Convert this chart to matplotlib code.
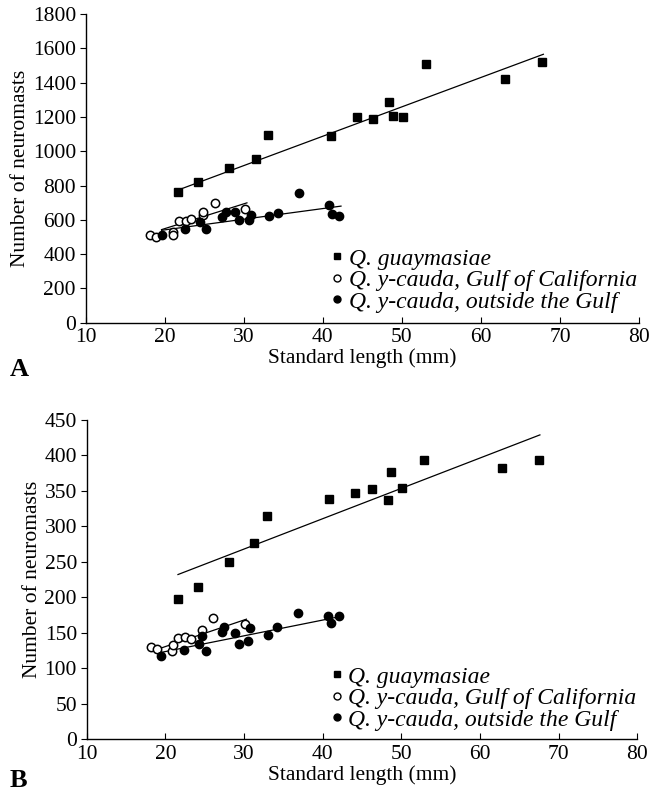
import numpy as np
import matplotlib.pyplot as plt
from matplotlib.lines import Line2D

plt.rcParams['font.family'] = ['Liberation Serif', 'DejaVu Serif']

# Panel A: total neuromasts
a_guay_x = [21.7, 24.2, 28.1, 31.5, 33.1, 41.0, 44.3, 46.4, 48.4, 48.9, 50.2, 53.0, 63.0, 67.7]
a_guay_y = [760, 822, 901, 957, 1094, 1088, 1200, 1186, 1286, 1207, 1200, 1506, 1418, 1518]
a_gulf_x = [18.2, 18.9, 21.0, 21.0, 21.8, 22.7, 23.3, 24.8, 24.9, 26.3, 30.2]
a_gulf_y = [514, 502, 529, 510, 592, 592, 604, 627, 643, 697, 661]
a_out_x = [19.6, 22.6, 24.5, 25.2, 27.2, 27.7, 28.9, 29.4, 30.7, 30.9, 33.2, 34.3, 37.0, 40.8, 41.2, 42.1]
a_out_y = [510, 545, 586, 547, 617, 643, 645, 598, 598, 627, 625, 641, 754, 684, 633, 625]
a_fit_guay = ([21.7, 67.9], [774, 1565])
a_fit_gulf = ([19.6, 30.4], [543, 699])
a_fit_out = ([19.6, 42.3], [539, 680])

# Panel B
b_guay_x = [21.6, 24.1, 28.1, 31.3, 32.9, 40.8, 44.1, 46.3, 48.3, 48.7, 50.1, 52.9, 62.8, 67.5]
b_guay_y = [197, 214, 249, 277, 314, 339, 347, 352, 337, 376, 354, 393, 383, 393]
b_gulf_x = [18.2, 18.9, 20.8, 21.0, 21.6, 22.5, 23.3, 24.7, 26.1, 30.1]
b_gulf_y = [130, 127, 124, 132, 143, 144, 141, 154, 171, 162]
b_out_x = [19.4, 22.4, 24.3, 24.7, 25.2, 27.2, 27.5, 28.9, 29.3, 30.5, 30.8, 33.1, 34.2, 36.9, 40.7, 41.0, 42.1]
b_out_y = [117, 126, 134, 145, 124, 151, 158, 149, 134, 138, 156, 146, 158, 178, 174, 163, 173]
b_fit_guay = ([21.6, 67.6], [232, 429])
b_fit_gulf = ([19.1, 30.3], [127, 169])
b_fit_out = ([19.4, 41.9], [122, 172])

labels = ['Q. guaymasiae', 'Q. y-cauda, Gulf of California', 'Q. y-cauda, outside the Gulf']

fig = plt.figure(figsize=(6.51, 7.97), dpi=100)
axA = fig.add_axes([0.1316, 0.595, 0.85, 0.3875])
axB = fig.add_axes([0.1332, 0.0728, 0.846, 0.4002])


def draw(ax, gx, gy, cx, cy, ox, oy, fits, ymax, ystep, leg_y):
    for fx, fy in fits:
        ax.plot(fx, fy, color='black', lw=0.9, zorder=1)
    ax.plot(gx, gy, 's', color='black', ms=6, zorder=3)
    ax.plot(cx, cy, 'o', mfc='white', mec='black', mew=1.1, ms=6, zorder=2)
    ax.plot(ox, oy, 'o', color='black', ms=6, zorder=3)
    ax.set_xlim(10, 80)
    ax.set_ylim(0, ymax)
    ax.set_xticks(range(10, 81, 10))
    ax.set_yticks(np.arange(0, ymax + 1, ystep))
    for s in ['top', 'right']:
        ax.spines[s].set_visible(False)
    for s in ['left', 'bottom']:
        ax.spines[s].set_linewidth(1.0)
    ax.tick_params(axis='x', direction='in', length=4, labelsize=15.5, pad=4)
    ax.tick_params(axis='y', direction='out', length=4, labelsize=15.5, pad=3)
    ax.set_xlabel('Standard length (mm)', fontsize=15.5, labelpad=1)
    ax.set_ylabel('Number of neuromasts', fontsize=15.5, labelpad=2)
    handles = [
        Line2D([], [], ls='', marker='s', color='black', ms=4.5),
        Line2D([], [], ls='', marker='o', mfc='white', mec='black', mew=1, ms=5),
        Line2D([], [], ls='', marker='o', color='black', ms=5),
    ]
    ax.legend(handles, labels, loc='lower left', bbox_to_anchor=(0.441, leg_y),
              frameon=False, handlelength=0.6, handletextpad=0.2,
              labelspacing=0.0, borderpad=0, borderaxespad=0,
              prop={'style': 'italic', 'size': 17})


draw(axA, a_guay_x, a_guay_y, a_gulf_x, a_gulf_y, a_out_x, a_out_y,
     [a_fit_guay, a_fit_gulf, a_fit_out], 1800, 200, 0.033)
draw(axB, b_guay_x, b_guay_y, b_gulf_x, b_gulf_y, b_out_x, b_out_y,
     [b_fit_guay, b_fit_gulf, b_fit_out], 450, 50, 0.026)

fig.text(0.015, 0.536, 'A', fontsize=19, fontweight='bold', va='center')
fig.text(0.015, 0.021, 'B', fontsize=19, fontweight='bold', va='center')

fig.savefig('out.png', dpi=100)
